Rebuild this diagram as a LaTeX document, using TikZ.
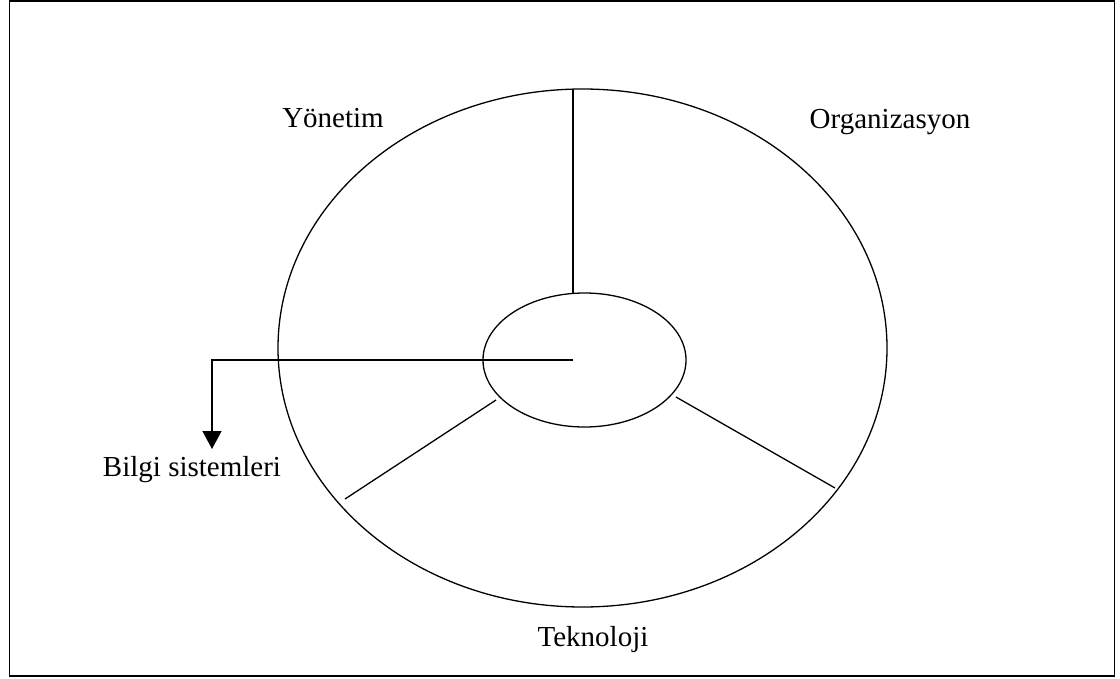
\documentclass[tikz,border=0pt]{standalone}
\usepackage{fontspec}
\setmainfont{Liberation Serif}
\usetikzlibrary{arrows.meta,shapes.geometric}
\begin{document}
\begin{tikzpicture}[x=1pt,y=-1pt,
    e/.style={draw,ellipse,line width=1.3pt,inner sep=0pt},
    l/.style={line width=1.3pt},
    t/.style={anchor=base,inner sep=0pt,font=\fontsize{29}{34}\selectfont}]
    \useasboundingbox (0,0) rectangle (1120,678);
    \draw[line width=1.5pt] (9.5,1.2) rectangle (1114.5,676);
    \node[e,minimum width=609pt,minimum height=518pt] (dis) at (582.5,348) {};
    \node[e,minimum width=203pt,minimum height=134pt] (ic) at (584.5,360) {};
    \coordinate (ust) at (573,89); \coordinate (icust) at (573,293.4);
    \coordinate (merkez) at (573,360); \coordinate (kose) at (212,360); \coordinate (uc) at (212,449);
    \coordinate (sol1) at (496,400); \coordinate (sol2) at (345,499);
    \coordinate (sag1) at (676,397); \coordinate (sag2) at (835,488);
    \node[t] (yon) at (333,127) {Yönetim};
    \node[t] (org) at (890,128) {Organizasyon};
    \node[t] (tek) at (593,646) {Teknoloji};
    \node[t] (bil) at (192,476) {Bilgi sistemleri};
    \draw[l] (ust)--(icust); \draw[l] (sol1)--(sol2); \draw[l] (sag1)--(sag2);
    \draw[l,-{Triangle[length=18pt,width=19pt]}] (merkez)--(kose)--(uc);
\end{tikzpicture}
\end{document}
